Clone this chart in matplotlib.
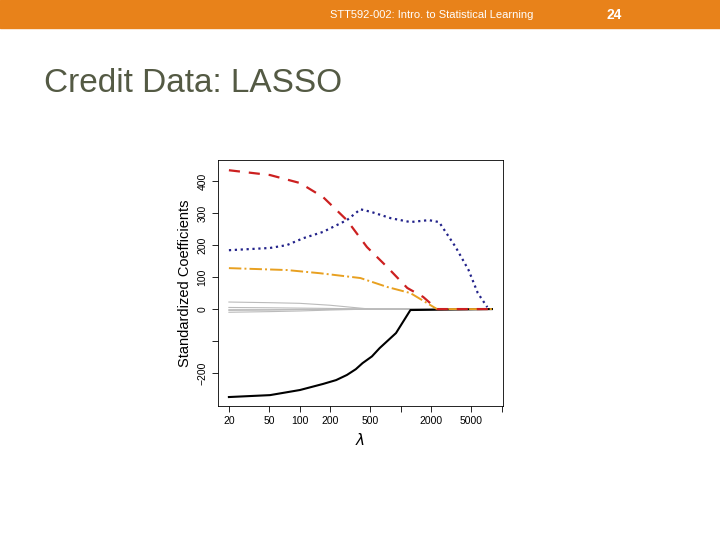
import numpy as np
import matplotlib.pyplot as plt

plt.rcParams["font.family"] = ["Liberation Sans", "DejaVu Sans"]

# coefficient paths
lam_red = [20, 51, 101, 171, 294, 464, 738, 1163, 1670, 2290, 8000]
red = [434, 419, 394, 350, 278, 194, 131, 66, 38, 0, 0]
lam_blue = [20, 51, 75, 110, 170, 294, 400, 520, 800, 1250, 1900, 2400, 3500, 4700, 5800, 7200]
blue = [184, 191, 200, 222, 241, 278, 312, 303, 284, 272, 278, 272, 194, 122, 50, 6]
lam_orange = [20, 75, 160, 400, 738, 1250, 2290, 8000]
orange = [128, 122, 112, 97, 69, 50, 0, 0]
lam_black = [20, 51, 101, 171, 230, 294, 360, 420, 520, 620, 900, 1250, 8000]
black = [-275, -269, -253, -234, -222, -206, -188, -169, -148, -122, -75, -3, 0]
lam_gray = [20, 50, 100, 200, 500, 8000]
grays = [[22, 20, 18, 12, 0, 0], [-10, -8, -6, -3, 0, 0],
         [-4, -3, -2, -1, 0, 0], [5, 4, 3, 2, 0, 0], [-2, -2, -1, -1, 0, 0]]

xticks = [20, 50, 100, 200, 500, 1000, 2000, 5000, 10000]
xlabels = ["20", "50", "100", "200", "500", "", "2000", "5000", ""]
yticks = [-200, -100, 0, 100, 200, 300, 400]
ylabels = ["\u2212200", "", "0", "100", "200", "300", "400"]

fig = plt.figure(figsize=(7.2, 5.4), dpi=100)

# slide header
fig.patches.append(plt.Rectangle((0, 1 - 28 / 540), 1, 28 / 540, transform=fig.transFigure,
                                 color="#E8821A", zorder=0))
fig.text(432 / 720, 1 - 15 / 540, "STT592-002: Intro. to Statistical Learning", color="white",
         ha="center", va="center", fontsize=8)
fig.text(614 / 720, 1 - 15 / 540, "24", color="white", ha="center", va="center",
         fontsize=10, fontweight="bold")
fig.text(44 / 720, 1 - 83 / 540, "Credit Data: LASSO", color="#545a44",
         ha="left", va="center", fontsize=24)

ax = fig.add_axes([218 / 720, 1 - 406 / 540, 285 / 720, 246 / 540])
for g in grays:
    ax.plot(lam_gray, g, color="#bbbbbb", lw=0.8)
ax.plot(lam_black, black, color="black", lw=1.5)
ax.plot(lam_orange, orange, color="#E8A020", lw=1.4, ls="-.")
ax.plot(lam_red, red, color="#CC2020", lw=1.6, ls=(0, (5, 4)))
ax.plot(lam_blue, blue, color="#22228A", lw=1.6, ls=":")

ax.set_xscale("log")
ax.set_xlim(15.6, 10300)
ax.set_ylim(-303, 466)
ax.set_xticks(xticks)
ax.set_xticklabels(xlabels)
ax.minorticks_off()
ax.set_yticks(yticks)
ax.set_yticklabels(ylabels, rotation=90, va="center")
ax.tick_params(labelsize=7.5, length=4, width=0.6)
for s in ax.spines.values():
    s.set_linewidth(0.6)
ax.set_xlabel(r"$\lambda$", fontsize=11)
ax.set_ylabel("Standardized Coefficients", fontsize=10.5)

fig.savefig("out.png", dpi=100)
